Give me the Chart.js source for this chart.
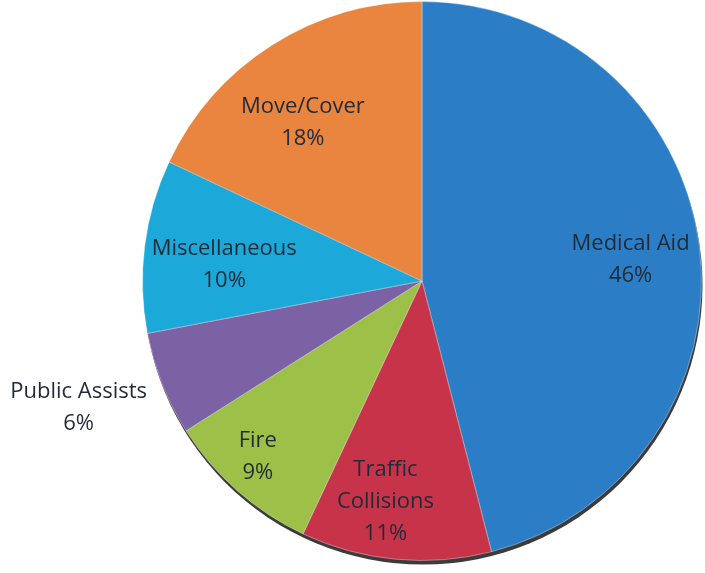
<!DOCTYPE html>
<html>
<head>
<meta charset="utf-8">
<script src="https://cdn.jsdelivr.net/npm/chart.js@4/dist/chart.umd.min.js"></script>
<style>
  html, body { margin: 0; padding: 0; background: #fff; }
  #wrap { width: 705px; height: 573px; }
</style>
</head>
<body>
<div id="wrap"><canvas id="callPie"></canvas></div>
<script>
const categories = ['Medical Aid', 'Traffic Collisions', 'Fire', 'Public Assists', 'Miscellaneous', 'Move/Cover'];
const labelLines = [['Medical Aid'], ['Traffic', 'Collisions'], ['Fire'], ['Public Assists'], ['Miscellaneous'], ['Move/Cover']];
const percentages = [46, 11, 9, 6, 10, 18];
const sliceColors = ['#2b7ec6', '#c7344a', '#9cc048', '#7b62a4', '#1ca8d9', '#e9853f'];

// rim shadow under the pie (the photo shows a dark edge at the bottom)
const rimShadow = {
  id: 'rimShadow',
  beforeDatasetsDraw(chart) {
    const arc = chart.getDatasetMeta(0).data[0];
    if (!arc) return;
    const { ctx } = chart;
    ctx.save();
    ctx.fillStyle = '#3b3b3b';
    ctx.beginPath();
    ctx.arc(arc.x + 1, arc.y + 4, arc.outerRadius, 0, Math.PI * 2);
    ctx.fill();
    ctx.restore();
  }
};

// draws "name\nNN%" labels; factor = distance from centre as fraction of radius,
// shift = small angle nudge in degrees
const sliceLabels = {
  id: 'sliceLabels',
  afterDatasetsDraw(chart, args, opts) {
    const { ctx } = chart;
    const meta = chart.getDatasetMeta(0);
    ctx.save();
    ctx.font = opts.font;
    ctx.fillStyle = opts.color;
    ctx.textAlign = 'center';
    ctx.textBaseline = 'middle';
    meta.data.forEach((arc, i) => {
      const mid = (arc.startAngle + arc.endAngle) / 2 + opts.shift[i] * Math.PI / 180;
      const r = arc.outerRadius * opts.factor[i];
      const x = arc.x + Math.cos(mid) * r;
      const y = arc.y + Math.sin(mid) * r;
      const lines = labelLines[i].concat([`${percentages[i]}%`]);
      const top = y - (lines.length - 1) * opts.lineHeight / 2;
      lines.forEach((t, k) => ctx.fillText(t, x, top + k * opts.lineHeight));
    });
    ctx.restore();
  }
};

// eslint-disable-next-line no-new
new Chart(document.getElementById('callPie'), {
  type: 'pie',
  data: {
    labels: categories,
    datasets: [{
      data: percentages,
      backgroundColor: sliceColors,
      borderColor: 'rgba(255,255,255,0.35)',
      borderWidth: 1
    }]
  },
  options: {
    responsive: true,
    maintainAspectRatio: false,
    animation: false,
    layout: { padding: { left: 142, right: 3, top: 1, bottom: 12 } },
    plugins: {
      legend: { display: false },
      tooltip: { enabled: false },
      sliceLabels: {
        font: '22px "Open Sans", sans-serif',
        color: '#1f2b38',
        lineHeight: 32,
        factor: [0.75, 0.8, 0.86, 1.31, 0.71, 0.71],
        shift: [1.4, 4, 1.7, 1.3, -2.6, -4.5]
      }
    }
  },
  plugins: [rimShadow, sliceLabels]
});
</script>
</body>
</html>
